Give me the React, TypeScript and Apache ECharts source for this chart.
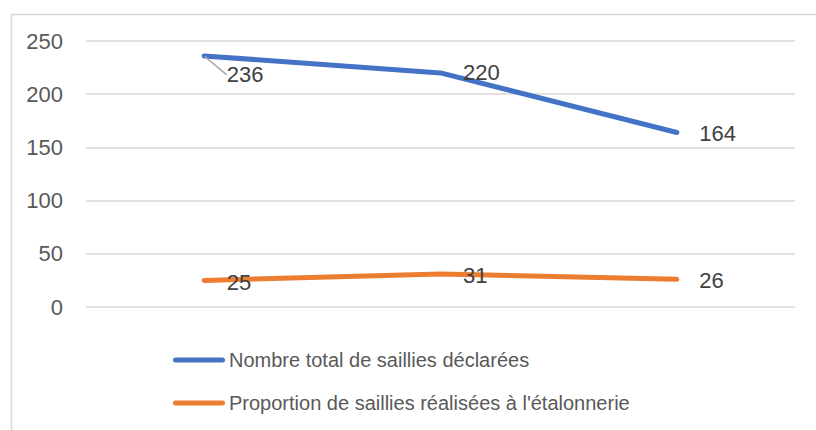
import React, { useEffect, useRef } from "react";
import * as echarts from "echarts";

const categories = ["A", "B", "C"];
const totalSaillies = [236, 220, 164];
const proportionEtalonnerie = [25, 31, 26];
const seriesNames = [
  "Nombre total de saillies déclarées",
  "Proportion de saillies réalisées à l'étalonnerie",
];
const yTicks = { min: 0, max: 250, interval: 50 };

const FONT = "'Liberation Sans', Arial, sans-serif";

export default function App() {
  const ref = useRef<HTMLDivElement>(null);
  useEffect(() => {
    if (!ref.current) return;
    const chart = echarts.init(ref.current, undefined, { renderer: "svg" });
    const legendIcon =
      "path://M2.5,0H49.5A2.5,2.5,0,0,1,49.5,5H2.5A2.5,2.5,0,0,1,2.5,0Z";
    const labelBase = {
      show: true,
      position: "right",
      distance: 22,
      color: "#404040",
      fontSize: 22,
      fontFamily: FONT,
    };
    chart.setOption({
      animation: false,
      backgroundColor: "#ffffff",
      graphic: [
        {
          type: "rect",
          left: 9,
          top: 12,
          shape: { width: 900, height: 500 },
          style: { fill: "none", stroke: "#d9d9d9", lineWidth: 1.5 },
          silent: true,
          z: -1,
        },
      ],
      grid: { left: 86, right: 21, top: 41, bottom: 123 },
      xAxis: {
        type: "category",
        data: categories,
        boundaryGap: true,
        axisLine: { show: false },
        axisTick: { show: false },
        axisLabel: { show: false },
      },
      yAxis: {
        type: "value",
        min: yTicks.min,
        max: yTicks.max,
        interval: yTicks.interval,
        axisLine: { show: false },
        axisTick: { show: false },
        axisLabel: {
          color: "#595959",
          fontSize: 22,
          fontFamily: FONT,
          margin: 23,
        },
        splitLine: { lineStyle: { color: "#d9d9d9", width: 1.5 } },
      },
      legend: {
        orient: "vertical",
        left: 168,
        top: 343,
        itemWidth: 52,
        itemHeight: 5,
        itemGap: 19,
        icon: legendIcon,
        textStyle: {
          color: "#595959",
          fontSize: 20,
          fontFamily: FONT,
          lineHeight: 24,
          padding: [0, 0, 0, -1],
        },
        data: seriesNames,
      },
      labelLayout: (params: any) => {
        const offsets = [
          [19, 0, 1],
          [2, 1, 1.5],
        ];
        const dy = offsets[params.seriesIndex]?.[params.dataIndex] ?? 0;
        return { dy };
      },
      series: [
        {
          name: seriesNames[0],
          type: "line",
          data: totalSaillies.map((v, i) =>
            i === 0 ? { value: v, labelLine: { show: true } } : v
          ),
          symbol: "circle",
          symbolSize: 1,
          color: "#4472C4",
          lineStyle: { color: "#4472C4", width: 5, cap: "round", join: "round" },
          label: labelBase,
          labelLine: {
            show: false,
            lineStyle: { color: "#a6a6a6", width: 1.5 },
          },
        },
        {
          name: seriesNames[1],
          type: "line",
          data: proportionEtalonnerie,
          symbol: "circle",
          symbolSize: 1,
          color: "#ED7D31",
          lineStyle: { color: "#ED7D31", width: 5, cap: "round", join: "round" },
          label: labelBase,
        },
      ],
    });
    return () => chart.dispose();
  }, []);
  return (
    <div
      ref={ref}
      style={{ position: "fixed", left: 0, top: 0, width: 816, height: 430 }}
    />
  );
}
